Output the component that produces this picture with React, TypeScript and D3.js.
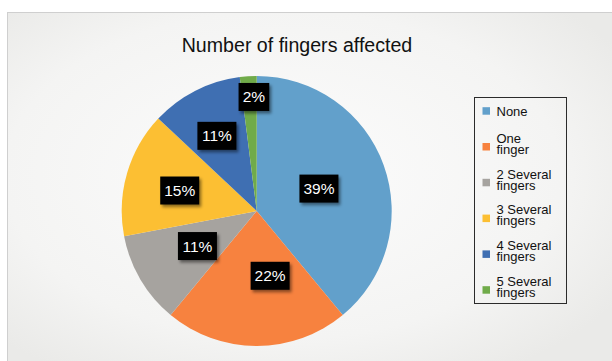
import React from "react";
import * as d3 from "d3";

const categories = [
  "None",
  "One finger",
  "2 Several fingers",
  "3 Several fingers",
  "4 Several fingers",
  "5 Several fingers",
];
const values = [39, 22, 11, 15, 11, 2];
const title = "Number of fingers affected";

const colors = ["#62a0cb", "#f7823f", "#a6a39f", "#fcbf33", "#3f6fb2", "#70ab4a"];
// label placement tweaks (style): radius fraction and angular shift (deg)
const labelRadius = [0.49, 0.49, 0.51, 0.59, 0.63, 0.845];
const labelShift = [0, -11.7, 0, -1.3, -0.9, 2.2];

const W = 612;
const H = 361;
const cx = 256.7;
const cy = 211;
const R = 135;

function splitLabel(s: string): string[] {
  const i = s.lastIndexOf(" ");
  if (s === "None" || i < 0) return [s];
  return [s.slice(0, i), s.slice(i + 1)];
}

export default function App() {
  const pie = d3.pie<number>().sort(null).value((d) => d)(values);
  const arc = d3.arc<d3.PieArcDatum<number>>().innerRadius(0).outerRadius(R);
  const font = "'Liberation Sans', Arial, sans-serif";
  const fmt = d3.format(".0%");
  const total = d3.sum(values);

  const legendY = d3
    .scalePoint<number>()
    .domain(d3.range(categories.length))
    .range([111, 290]);

  return (
    <svg
      width={W}
      height={H}
      style={{ position: "absolute", left: 0, top: 0, display: "block" }}
      fontFamily={font}
    >
      <defs>
        <radialGradient id="bg" cx="45%" cy="45%" r="65%">
          <stop offset="0%" stopColor="#fcfcfc" />
          <stop offset="70%" stopColor="#f4f4f3" />
          <stop offset="100%" stopColor="#eaeae8" />
        </radialGradient>
        <filter id="shadow" x="-30%" y="-30%" width="160%" height="170%">
          <feDropShadow dx="2" dy="2.5" stdDeviation="1.5" floodColor="#000" floodOpacity="0.45" />
        </filter>
      </defs>
      <rect x={0} y={0} width={W} height={H} fill="#ffffff" />
      <rect x={7.5} y={12.5} width={W} height={H} fill="url(#bg)" stroke="#cfcfcf" strokeWidth={1} />
      <text x={297} y={51.5} textAnchor="middle" fontSize={19.6} fill="#111">
        {title}
      </text>
      <g transform={`translate(${cx},${cy})`}>
        {pie.map((d, i) => (
          <path key={i} d={arc(d) || ""} fill={colors[i]} />
        ))}
        {pie.map((d, i) => {
          const mid = (d.startAngle + d.endAngle) / 2 + (labelShift[i] * Math.PI) / 180;
          const r = R * labelRadius[i];
          const x = r * Math.sin(mid);
          const y = -r * Math.cos(mid);
          const txt = fmt(d.data / total);
          const tw = txt.length === 2 ? 21.7 : 30;
          const bw = tw + 9;
          const bh = 28;
          return (
            <g key={"l" + i} transform={`translate(${x},${y})`}>
              <rect x={-bw / 2} y={-bh / 2} width={bw} height={bh} fill="#000" filter="url(#shadow)" />
              <text x={0} y={5.5} textAnchor="middle" fontSize={15.5} fill="#fff">
                {txt}
              </text>
            </g>
          );
        })}
      </g>
      <rect x={474.5} y={97.5} width={92} height={206} fill="none" stroke="#2b2b2b" strokeWidth={1} />
      {categories.map((c, i) => {
        const y = legendY(i) as number;
        const lines = splitLabel(c);
        return (
          <g key={"lg" + i}>
            <rect x={482.5} y={y - 3.8} width={7.5} height={7.5} fill={colors[i]} />
            {lines.length === 1 ? (
              <text x={496.5} y={y + 4.5} fontSize={13} fill="#111">
                {lines[0]}
              </text>
            ) : (
              <text fontSize={13} fill="#111">
                <tspan x={496.5} y={y - 4}>
                  {lines[0]}
                </tspan>
                <tspan x={496.5} y={y + 7}>
                  {lines[1]}
                </tspan>
              </text>
            )}
          </g>
        );
      })}
    </svg>
  );
}
